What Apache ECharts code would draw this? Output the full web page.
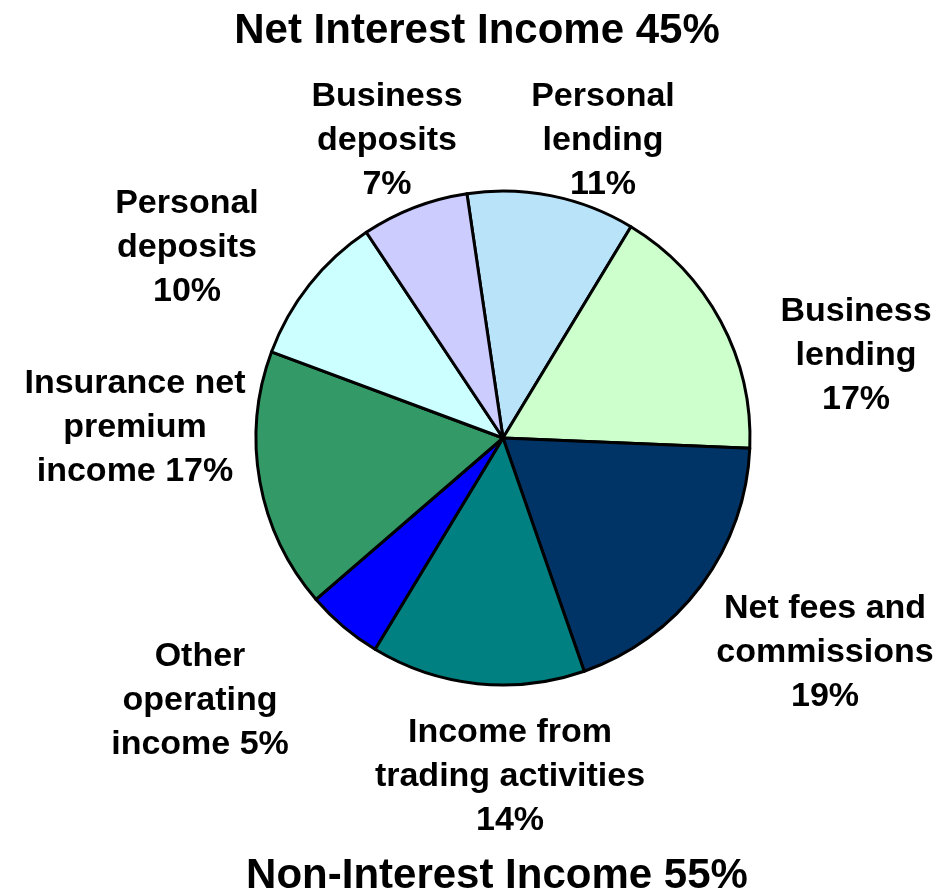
<!DOCTYPE html>
<html>
<head>
<meta charset="utf-8">
<title>Income mix</title>
<script src="https://cdn.jsdelivr.net/npm/echarts@6/dist/echarts.min.js"></script>
<style>
  html, body { margin: 0; padding: 0; background: #ffffff; }
  #chart { width: 943px; height: 895px; }
</style>
</head>
<body>
<div id="chart"></div>
<script>
// Income segments, clockwise from the top
const categories = [
  'Personal lending',
  'Business lending',
  'Net fees and commissions',
  'Income from trading activities',
  'Other operating income',
  'Insurance net premium income',
  'Personal deposits',
  'Business deposits'
];
const shares = [11, 17, 19, 14, 5, 17, 10, 7];
// Which group each segment belongs to
const groups = ['interest', 'interest', 'other', 'other', 'other', 'other', 'interest', 'interest'];
const groupTitles = { interest: 'Net Interest Income', other: 'Non-Interest Income' };

// Line-broken label text for each segment; "%v" is replaced by the share
const labelTexts = [
  'Personal\nlending\n%v',
  'Business\nlending\n%v',
  'Net fees and\ncommissions\n%v',
  'Income from\ntrading activities\n%v',
  'Other\noperating\nincome %v',
  'Insurance net\npremium\nincome %v',
  'Personal\ndeposits\n%v',
  'Business\ndeposits\n%v'
];

const colors = ['#B9E3F8', '#CCFFCC', '#003366', '#008080', '#0000FF', '#339966', '#CCFFFF', '#CCCCFF'];
// Centre of each label block, in pixels
const labelCentres = [
  [603, 141], [856, 356], [825, 653], [510, 777],
  [200, 701], [135, 428], [187, 248], [387, 141]
];

const groupTotal = g => shares.reduce((s, v, i) => s + (groups[i] === g ? v : 0), 0);

const FONT = '"Liberation Sans", Arial, sans-serif';

const chart = echarts.init(document.getElementById('chart'));
chart.setOption({
  animation: false,
  backgroundColor: '#ffffff',
  graphic: [
    {
      type: 'text', x: 477, y: 31,
      style: {
        text: groupTitles.interest + ' ' + groupTotal('interest') + '%',
        fontFamily: FONT, fontWeight: 'bold', fontSize: 42, fill: '#000',
        align: 'center', verticalAlign: 'middle'
      }
    },
    {
      type: 'text', x: 497, y: 876,
      style: {
        text: groupTitles.other + ' ' + groupTotal('other') + '%',
        fontFamily: FONT, fontWeight: 'bold', fontSize: 42, fill: '#000',
        align: 'center', verticalAlign: 'middle'
      }
    }
  ],
  series: [{
    type: 'pie',
    center: [503, 438],
    radius: 247,
    startAngle: 98.4,
    clockwise: true,
    avoidLabelOverlap: false,
    emphasis: { disabled: true },
    itemStyle: { borderColor: '#000', borderWidth: 3 },
    label: {
      show: true,
      position: 'outside',
      fontFamily: FONT,
      fontWeight: 'bold',
      fontSize: 34,
      lineHeight: 44,
      color: '#000',
      align: 'center',
      formatter: p => labelTexts[p.dataIndex].replace('%v', p.value + '%')
    },
    labelLine: { show: false },
    labelLayout: p => ({
      x: labelCentres[p.dataIndex][0],
      y: labelCentres[p.dataIndex][1],
      align: 'center',
      verticalAlign: 'middle'
    }),
    data: categories.map((name, i) => ({
      name: name,
      value: shares[i],
      itemStyle: { color: colors[i] }
    }))
  }]
});
</script>
</body>
</html>
